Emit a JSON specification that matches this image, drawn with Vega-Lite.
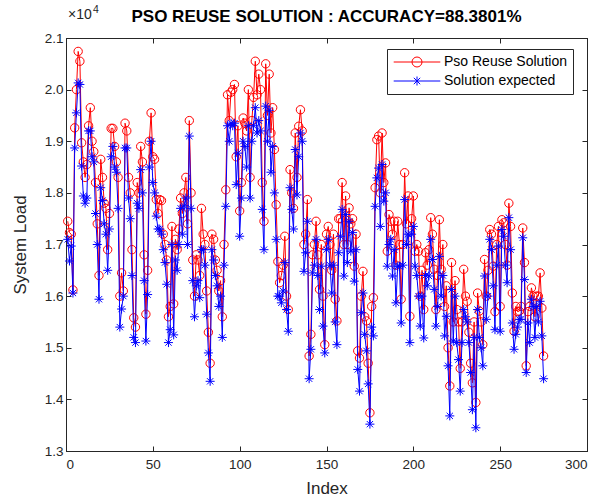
{
"$schema": "https://vega.github.io/schema/vega-lite/v6.json",
"width": 521, "height": 413,
"autosize": "none",
"padding": {"left": 66, "top": 38, "right": 26, "bottom": 48},
"background": "white",
"config": {
  "font": "Liberation Sans",
  "view": {"stroke": "#262626", "strokeWidth": 1},
  "axis": {"grid": false, "labelFontSize": 13.5, "labelColor": "#262626", "titleFontSize": 17, "titleColor": "#262626", "titleFontWeight": "normal", "domainColor": "#262626", "tickColor": "#262626", "tickSize": -5}
},
"title": {"text": "PSO REUSE SOLUTION : ACCURACY=88.3801%", "fontSize": 17, "fontWeight": "bold", "color": "#000000", "anchor": "middle", "frame": "group", "offset": -21},
"data": {"values": [
{"i":1,"pso":17450,"expected":17100},{"i":2,"pso":17230,"expected":16680},{"i":3,"pso":17200,"expected":16970},{"i":4,"pso":16120,"expected":16060},{"i":5,"pso":19260,"expected":18870},
{"i":6,"pso":20000,"expected":19550},{"i":7,"pso":20740,"expected":20130},{"i":8,"pso":20550,"expected":20100},{"i":9,"pso":18970,"expected":18520},{"i":10,"pso":18600,"expected":17940},
{"i":11,"pso":18300,"expected":17800},{"i":12,"pso":18550,"expected":17900},{"i":13,"pso":19300,"expected":19200},{"i":14,"pso":19650,"expected":19200},{"i":15,"pso":19000,"expected":18700},
{"i":16,"pso":18800,"expected":18600},{"i":17,"pso":18200,"expected":17600},{"i":18,"pso":17400,"expected":17000},{"i":19,"pso":16400,"expected":15940},{"i":20,"pso":18650,"expected":18100},
{"i":21,"pso":18300,"expected":17850},{"i":22,"pso":17800,"expected":17400},{"i":23,"pso":17700,"expected":17200},{"i":24,"pso":16900,"expected":16500},{"i":25,"pso":17600,"expected":17300},
{"i":26,"pso":19250,"expected":18700},{"i":27,"pso":19250,"expected":18900},{"i":28,"pso":18900,"expected":18500},{"i":29,"pso":18600,"expected":18400},{"i":30,"pso":18300,"expected":17700},
{"i":31,"pso":16000,"expected":15400},{"i":32,"pso":16450,"expected":15750},{"i":33,"pso":16100,"expected":16000},{"i":34,"pso":19350,"expected":18870},{"i":35,"pso":19200,"expected":18870},
{"i":36,"pso":18300,"expected":17900},{"i":37,"pso":18000,"expected":17500},{"i":38,"pso":16900,"expected":16400},{"i":39,"pso":15580,"expected":15200},{"i":40,"pso":15400,"expected":15100},
{"i":41,"pso":18200,"expected":17800},{"i":42,"pso":18000,"expected":17700},{"i":43,"pso":18900,"expected":18450},{"i":44,"pso":18600,"expected":18000},{"i":45,"pso":16800,"expected":16300},
{"i":46,"pso":15650,"expected":15130},{"i":47,"pso":16500,"expected":16030},{"i":48,"pso":19000,"expected":18500},{"i":49,"pso":19550,"expected":19000},{"i":50,"pso":18700,"expected":18200},
{"i":51,"pso":18650,"expected":18000},{"i":52,"pso":17870,"expected":17550},{"i":53,"pso":17600,"expected":17300},{"i":54,"pso":17870,"expected":17300},{"i":55,"pso":17850,"expected":17200},
{"i":56,"pso":17200,"expected":16900},{"i":57,"pso":17000,"expected":16650},{"i":58,"pso":16700,"expected":16230},{"i":59,"pso":15600,"expected":15100},{"i":60,"pso":15800,"expected":15350},
{"i":61,"pso":17350,"expected":17000},{"i":62,"pso":15850,"expected":15250},{"i":63,"pso":17100,"expected":16700},{"i":64,"pso":16900,"expected":16500},{"i":65,"pso":17300,"expected":17000},
{"i":66,"pso":17900,"expected":17700},{"i":67,"pso":17600,"expected":17200},{"i":68,"pso":18000,"expected":17750},{"i":69,"pso":18300,"expected":17900},{"i":70,"pso":17400,"expected":17000},
{"i":71,"pso":19400,"expected":19100},{"i":72,"pso":18000,"expected":17700},{"i":73,"pso":16700,"expected":16300},{"i":74,"pso":16000,"expected":15600},{"i":75,"pso":16800,"expected":16200},
{"i":76,"pso":16700,"expected":16300},{"i":77,"pso":16400,"expected":15970},{"i":78,"pso":17700,"expected":16900},{"i":79,"pso":17200,"expected":16900},{"i":80,"pso":17000,"expected":16600},
{"i":81,"pso":16100,"expected":15650},{"i":82,"pso":15300,"expected":14900},{"i":83,"pso":14700,"expected":14350},{"i":84,"pso":17200,"expected":16900},{"i":85,"pso":17100,"expected":16700},
{"i":86,"pso":16700,"expected":16400},{"i":87,"pso":16500,"expected":16200},{"i":88,"pso":16100,"expected":15800},{"i":89,"pso":16300,"expected":16000},{"i":90,"pso":15600,"expected":15200},
{"i":91,"pso":17000,"expected":16600},{"i":92,"pso":18060,"expected":17740},{"i":93,"pso":19900,"expected":19300},{"i":94,"pso":19400,"expected":19000},{"i":95,"pso":19950,"expected":19350},
{"i":96,"pso":20000,"expected":19300},{"i":97,"pso":20100,"expected":19350},{"i":98,"pso":18700,"expected":18160},{"i":99,"pso":19300,"expected":18770},{"i":100,"pso":17650,"expected":17160},
{"i":101,"pso":18200,"expected":17900},{"i":102,"pso":19450,"expected":19000},{"i":103,"pso":19350,"expected":18900},{"i":104,"pso":19200,"expected":18500},{"i":105,"pso":20000,"expected":19300},
{"i":106,"pso":18300,"expected":17900},{"i":107,"pso":19400,"expected":19000},{"i":108,"pso":19850,"expected":19300},{"i":109,"pso":20550,"expected":19650},{"i":110,"pso":19900,"expected":19160},
{"i":111,"pso":20300,"expected":19400},{"i":112,"pso":20000,"expected":19200},{"i":113,"pso":18200,"expected":17680},{"i":114,"pso":17450,"expected":16900},{"i":115,"pso":20500,"expected":19680},
{"i":116,"pso":19500,"expected":19000},{"i":117,"pso":20300,"expected":19600},{"i":118,"pso":19160,"expected":18400},{"i":119,"pso":19650,"expected":18900},{"i":120,"pso":18840,"expected":18000},
{"i":121,"pso":17770,"expected":17100},{"i":122,"pso":16670,"expected":16000},{"i":123,"pso":16260,"expected":16000},{"i":124,"pso":16400,"expected":15870},{"i":125,"pso":16600,"expected":16100},
{"i":126,"pso":17160,"expected":16650},{"i":127,"pso":16000,"expected":15740},{"i":128,"pso":15740,"expected":15320},{"i":129,"pso":18450,"expected":18100},{"i":130,"pso":18000,"expected":17680},
{"i":131,"pso":17700,"expected":17300},{"i":132,"pso":19160,"expected":18840},{"i":133,"pso":18300,"expected":17960},{"i":134,"pso":19290,"expected":18700},{"i":135,"pso":19610,"expected":19160},
{"i":136,"pso":19200,"expected":19000},{"i":137,"pso":17000,"expected":16480},{"i":138,"pso":17200,"expected":16840},{"i":139,"pso":17870,"expected":17450},{"i":140,"pso":14840,"expected":14400},
{"i":141,"pso":15260,"expected":14970},{"i":142,"pso":16800,"expected":16450},{"i":143,"pso":17000,"expected":16600},{"i":144,"pso":17450,"expected":17100},{"i":145,"pso":16800,"expected":16400},
{"i":146,"pso":16130,"expected":15740},{"i":147,"pso":17000,"expected":16580},{"i":148,"pso":16000,"expected":15420},{"i":149,"pso":15060,"expected":14900},{"i":150,"pso":17200,"expected":16900},
{"i":151,"pso":17350,"expected":17100},{"i":152,"pso":17000,"expected":16600},{"i":153,"pso":16500,"expected":16060},{"i":154,"pso":17200,"expected":16600},{"i":155,"pso":15940,"expected":15500},
{"i":156,"pso":15520,"expected":15060},{"i":157,"pso":17500,"expected":16840},{"i":158,"pso":17500,"expected":17160},{"i":159,"pso":18200,"expected":17680},{"i":160,"pso":17000,"expected":16390},
{"i":161,"pso":17940,"expected":17580},{"i":162,"pso":17000,"expected":16650},{"i":163,"pso":17710,"expected":17450},{"i":164,"pso":17400,"expected":16870},{"i":165,"pso":17500,"expected":17230},
{"i":166,"pso":16580,"expected":16290},{"i":167,"pso":17200,"expected":16900},{"i":168,"pso":14940,"expected":14580},{"i":169,"pso":14800,"expected":14160},{"i":170,"pso":16000,"expected":15680},
{"i":171,"pso":16480,"expected":16060},{"i":172,"pso":15600,"expected":15260},{"i":173,"pso":15520,"expected":14940},{"i":174,"pso":14700,"expected":14300},{"i":175,"pso":13740,"expected":13520},
{"i":176,"pso":15800,"expected":15400},{"i":177,"pso":15970,"expected":15230},{"i":178,"pso":18100,"expected":17740},{"i":179,"pso":19030,"expected":18290},{"i":180,"pso":19100,"expected":18480},
{"i":181,"pso":18000,"expected":17350},{"i":182,"pso":19160,"expected":18550},{"i":183,"pso":18200,"expected":17840},{"i":184,"pso":18580,"expected":18000},{"i":185,"pso":16870,"expected":16580},
{"i":186,"pso":17580,"expected":17000},{"i":187,"pso":17450,"expected":17100},{"i":188,"pso":17200,"expected":16390},{"i":189,"pso":17450,"expected":16900},{"i":190,"pso":16600,"expected":15870},
{"i":191,"pso":17450,"expected":16580},{"i":192,"pso":17000,"expected":16580},{"i":193,"pso":15940,"expected":15480},{"i":194,"pso":17000,"expected":16600},{"i":195,"pso":18390,"expected":17870},
{"i":196,"pso":17400,"expected":17000},{"i":197,"pso":17940,"expected":17200},{"i":198,"pso":15610,"expected":15100},{"i":199,"pso":17500,"expected":17200},{"i":200,"pso":17940,"expected":17350},
{"i":201,"pso":16870,"expected":16580},{"i":202,"pso":17000,"expected":16400},{"i":203,"pso":16870,"expected":16000},{"i":204,"pso":16000,"expected":15420},{"i":205,"pso":16500,"expected":16000},
{"i":206,"pso":15740,"expected":15190},{"i":207,"pso":16840,"expected":16400},{"i":208,"pso":16600,"expected":16200},{"i":209,"pso":16900,"expected":16390},{"i":210,"pso":17520,"expected":17100},
{"i":211,"pso":17200,"expected":16710},{"i":212,"pso":16520,"expected":16130},{"i":213,"pso":15740,"expected":15420},{"i":214,"pso":16400,"expected":15800},{"i":215,"pso":17480,"expected":16770},
{"i":216,"pso":16520,"expected":16000},{"i":217,"pso":17000,"expected":16400},{"i":218,"pso":15800,"expected":15230},{"i":219,"pso":16200,"expected":15610},{"i":220,"pso":15000,"expected":14650},
{"i":221,"pso":14260,"expected":13680},{"i":222,"pso":16650,"expected":16130},{"i":223,"pso":15500,"expected":15130},{"i":224,"pso":16300,"expected":16000},{"i":225,"pso":15740,"expected":15100},
{"i":226,"pso":15500,"expected":14770},{"i":227,"pso":14600,"expected":14160},{"i":228,"pso":15500,"expected":15100},{"i":229,"pso":16520,"expected":15740},{"i":230,"pso":16000,"expected":15600},
{"i":231,"pso":15900,"expected":15500},{"i":232,"pso":15300,"expected":15100},{"i":233,"pso":14700,"expected":14520},{"i":234,"pso":14320,"expected":13800},{"i":235,"pso":15500,"expected":15200},
{"i":236,"pso":13940,"expected":13450},{"i":237,"pso":16060,"expected":15740},{"i":238,"pso":15710,"expected":15200},{"i":239,"pso":15500,"expected":15000},{"i":240,"pso":15060,"expected":14650},
{"i":241,"pso":16710,"expected":16390},{"i":242,"pso":16000,"expected":15550},{"i":243,"pso":16500,"expected":16000},{"i":244,"pso":17290,"expected":17100},{"i":245,"pso":17200,"expected":16900},
{"i":246,"pso":16580,"expected":16200},{"i":247,"pso":15700,"expected":15350},{"i":248,"pso":17000,"expected":16600},{"i":249,"pso":17350,"expected":16970},{"i":250,"pso":15800,"expected":15320},
{"i":251,"pso":17480,"expected":17290},{"i":252,"pso":17420,"expected":17160},{"i":253,"pso":17000,"expected":16600},{"i":254,"pso":16600,"expected":16260},{"i":255,"pso":17800,"expected":17520},
{"i":256,"pso":17350,"expected":16900},{"i":257,"pso":16060,"expected":15480},{"i":258,"pso":15320,"expected":14970},{"i":259,"pso":15800,"expected":15260},{"i":260,"pso":15700,"expected":15400},
{"i":261,"pso":15710,"expected":15550},{"i":262,"pso":15800,"expected":15550},{"i":263,"pso":17320,"expected":17130},{"i":264,"pso":16650,"expected":16320},{"i":265,"pso":14650,"expected":14520},
{"i":266,"pso":15700,"expected":15480},{"i":267,"pso":15800,"expected":15100},{"i":268,"pso":16160,"expected":15940},{"i":269,"pso":16000,"expected":15800},{"i":270,"pso":15600,"expected":15200},
{"i":271,"pso":16000,"expected":15800},{"i":272,"pso":16000,"expected":15500},{"i":273,"pso":16450,"expected":15900},{"i":274,"pso":15770,"expected":15230},{"i":275,"pso":14840,"expected":14400}
]},
"layer": [
  {
    "transform": [{"fold": ["pso", "expected"], "as": ["series", "load"]}, {"filter": "datum.series == 'pso'"}],
    "mark": {"type": "line", "strokeWidth": 1},
    "encoding": {
      "x": {"field": "i", "type": "quantitative", "scale": {"domain": [0, 300], "nice": false},
            "axis": {"orient": "bottom", "values": [0, 50, 100, 150, 200, 250, 300], "title": "Index", "labelPadding": 11, "titlePadding": 10}},
      "y": {"field": "load", "type": "quantitative", "scale": {"domain": [13000, 21000], "nice": false, "zero": false},
            "axis": {"orient": "left", "values": [13000, 14000, 15000, 16000, 17000, 18000, 19000, 20000, 21000], "labelExpr": "format(datum.value / 10000, '.1f')", "title": "System Load", "labelPadding": 8, "titlePadding": 15}},
      "color": {"field": "series", "type": "nominal", "scale": {"domain": ["pso", "expected"], "range": ["#ff0000", "#0000ff"]},
        "legend": {"title": null, "orient": "none", "legendX": 321, "legendY": 11, "direction": "vertical", "padding": 6,
          "symbolSize": 100, "symbolOffset": 17, "labelOffset": 20, "labelFontSize": 14, "labelColor": "#000000", "rowPadding": 5,
          "strokeColor": "#262626", "fillColor": "#ffffff", "symbolStrokeWidth": 1, "symbolFillColor": "transparent",
          "labelExpr": "datum.value == 'pso' ? 'Pso Reuse Solution ' : 'Solution expected'",
          "encode": {"symbols": {"update": {"shape": {"signal": "datum.value == 'pso' ? 'M-4.66,0L4.66,0M1,0A1,1,0,1,1,-1,0A1,1,0,1,1,1,0' : 'M-4.66,0L4.66,0M0,-0.9L0,0.9M-0.64,-0.64L0.64,0.64M-0.64,0.64L0.64,-0.64'"}, "fill": {"value": "transparent"}, "strokeWidth": {"value": 1}}}}}}
    }
  },
  {
    "transform": [{"fold": ["pso", "expected"], "as": ["series", "load"]}, {"filter": "datum.series == 'pso'"}],
    "mark": {"type": "point", "shape": "circle", "filled": false, "size": 70, "strokeWidth": 1, "opacity": 1},
    "encoding": {
      "x": {"field": "i", "type": "quantitative", "axis": null},
      "y": {"field": "load", "type": "quantitative", "axis": null},
      "color": {"field": "series", "type": "nominal"}
    }
  },
  {
    "transform": [{"fold": ["pso", "expected"], "as": ["series", "load"]}, {"filter": "datum.series == 'expected'"}],
    "mark": {"type": "line", "strokeWidth": 1},
    "encoding": {
      "x": {"field": "i", "type": "quantitative", "axis": null},
      "y": {"field": "load", "type": "quantitative", "axis": null},
      "color": {"field": "series", "type": "nominal"}
    }
  },
  {
    "transform": [{"fold": ["pso", "expected"], "as": ["series", "load"]}, {"filter": "datum.series == 'expected'"}],
    "mark": {"type": "point", "shape": "M-1,0L1,0M0,-1L0,1M-0.7,-0.7L0.7,0.7M-0.7,0.7L0.7,-0.7", "filled": false, "size": 81, "strokeWidth": 1, "opacity": 1},
    "encoding": {
      "x": {"field": "i", "type": "quantitative", "axis": {"orient": "top", "values": [0, 50, 100, 150, 200, 250, 300], "labels": false, "title": null}},
      "y": {"field": "load", "type": "quantitative", "axis": {"orient": "right", "values": [13000, 14000, 15000, 16000, 17000, 18000, 19000, 20000, 21000], "labels": false, "title": null}},
      "color": {"field": "series", "type": "nominal"}
    }
  },
  {
    "data": {"values": [{"note": "×10", "i": 0, "load": 21000}]},
    "mark": {"type": "text", "align": "left", "baseline": "alphabetic", "dx": 2, "dy": -19, "fontSize": 14, "color": "#262626", "font": "Liberation Sans"},
    "encoding": {
      "x": {"field": "i", "type": "quantitative", "axis": null},
      "y": {"field": "load", "type": "quantitative", "axis": null},
      "text": {"field": "note"}
    }
  },
  {
    "data": {"values": [{"note": "4", "i": 0, "load": 21000}]},
    "mark": {"type": "text", "align": "left", "baseline": "alphabetic", "dx": 27, "dy": -25, "fontSize": 10.5, "color": "#262626", "font": "Liberation Sans"},
    "encoding": {
      "x": {"field": "i", "type": "quantitative", "axis": null},
      "y": {"field": "load", "type": "quantitative", "axis": null},
      "text": {"field": "note"}
    }
  }
],
"resolve": {"axis": {"x": "independent", "y": "independent"}}
}
